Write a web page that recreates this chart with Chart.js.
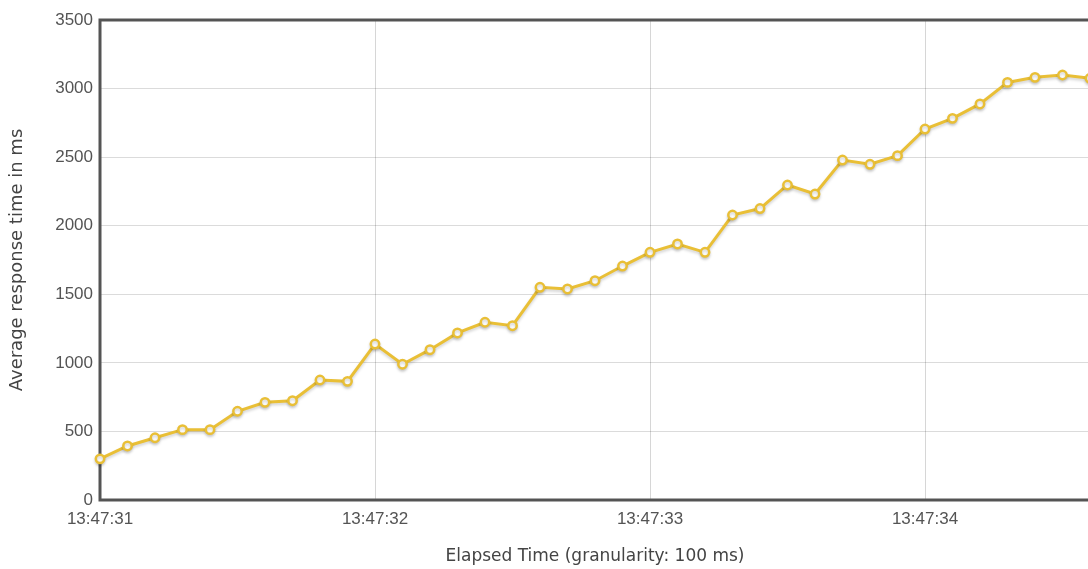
<!DOCTYPE html>
<html>
<head>
<meta charset="utf-8">
<script src="https://cdn.jsdelivr.net/npm/chart.js@4/dist/chart.umd.min.js"></script>
<style>
  html, body { margin: 0; padding: 0; background: #fff; overflow: hidden; }
  #wrap { position: relative; width: 1100px; height: 569px; }
</style>
</head>
<body>
<div id="wrap"><canvas id="chart"></canvas></div>
<script>
// elapsed time since 13:47:31, in ms (granularity 100 ms)
const elapsedMs = [0, 100, 200, 300, 400, 500, 600, 700, 800, 900,
  1000, 1100, 1200, 1300, 1400, 1500, 1600, 1700, 1800, 1900,
  2000, 2100, 2200, 2300, 2400, 2500, 2600, 2700, 2800, 2900,
  3000, 3100, 3200, 3300, 3400, 3500, 3600];
const avgResponse = [300, 394, 454, 513, 513, 647, 712, 724, 875, 865,
  1137, 990, 1096, 1218, 1296, 1271, 1551, 1539, 1599, 1706,
  1806, 1867, 1806, 2078, 2125, 2297, 2231, 2479, 2448, 2511,
  2705, 2783, 2888, 3045, 3082, 3099, 3075];
const xTickValues = [0, 1000, 2000, 3000];
const xTickLabels = ['13:47:31', '13:47:32', '13:47:33', '13:47:34'];

const gray = '#545454';

// thick frame round the plot, drawn under the line
const frame = {
  id: 'frame',
  beforeDatasetsDraw(chart) {
    const { ctx, chartArea: a } = chart;
    ctx.save();
    ctx.strokeStyle = gray;
    ctx.lineWidth = 3;
    ctx.strokeRect(a.left, a.top, a.right - a.left, a.bottom - a.top);
    ctx.restore();
  }
};

// soft shadow under the series, like flot does
const shadow = {
  id: 'shadow',
  beforeDatasetDraw(chart) {
    const ctx = chart.ctx;
    ctx.save();
    ctx.shadowColor = 'rgba(0,0,0,0.18)';
    ctx.shadowBlur = 3;
    ctx.shadowOffsetY = 2;
  },
  afterDatasetDraw(chart) {
    chart.ctx.restore();
  }
};

new Chart(document.getElementById('chart'), {
  type: 'line',
  data: {
    datasets: [{
      data: elapsedMs.map((t, i) => ({ x: t, y: avgResponse[i] })),
      borderColor: '#e9bf36',
      borderWidth: 3,
      backgroundColor: '#fff',
      pointBackgroundColor: '#fff',
      pointBorderColor: '#e9bf36',
      pointBorderWidth: 2.5,
      pointRadius: 4.2,
      tension: 0,
      fill: false,
      clip: false
    }]
  },
  options: {
    responsive: true,
    maintainAspectRatio: false,
    animation: false,
    layout: { padding: { top: 20, right: 10, bottom: 0, left: 0 } },
    plugins: { legend: { display: false }, tooltip: { enabled: false } },
    scales: {
      x: {
        type: 'linear',
        min: 0,
        max: 3600,
        afterBuildTicks(scale) {
          scale.ticks = xTickValues.map(v => ({ value: v }));
        },
        afterFit(scale) { scale.height = 69; },
        border: { display: false },
        grid: { color: 'rgba(0,0,0,0.16)', drawTicks: false },
        ticks: {
          padding: 9,
          color: gray,
          font: { family: '"Liberation Sans", Arial, sans-serif', size: 17 },
          callback: (v) => xTickLabels[xTickValues.indexOf(v)]
        },
        title: {
          display: true,
          text: 'Elapsed Time (granularity: 100 ms)',
          color: '#444',
          font: { family: '"DejaVu Sans", Verdana, sans-serif', size: 17 },
          padding: { top: 0, bottom: 2 }
        }
      },
      y: {
        min: 0,
        max: 3500,
        afterFit(scale) { scale.width = 100; },
        border: { display: false },
        grid: { color: 'rgba(0,0,0,0.14)', drawTicks: false },
        ticks: {
          stepSize: 500,
          padding: 7,
          color: gray,
          font: { family: '"Liberation Sans", Arial, sans-serif', size: 17 },
          callback: (v) => String(v)
        },
        title: {
          display: true,
          text: 'Average response time in ms',
          color: '#444',
          font: { family: '"DejaVu Sans", Verdana, sans-serif', size: 18 },
          padding: { top: 7, bottom: 0 }
        }
      }
    }
  },
  plugins: [frame, shadow]
});
</script>
</body>
</html>
